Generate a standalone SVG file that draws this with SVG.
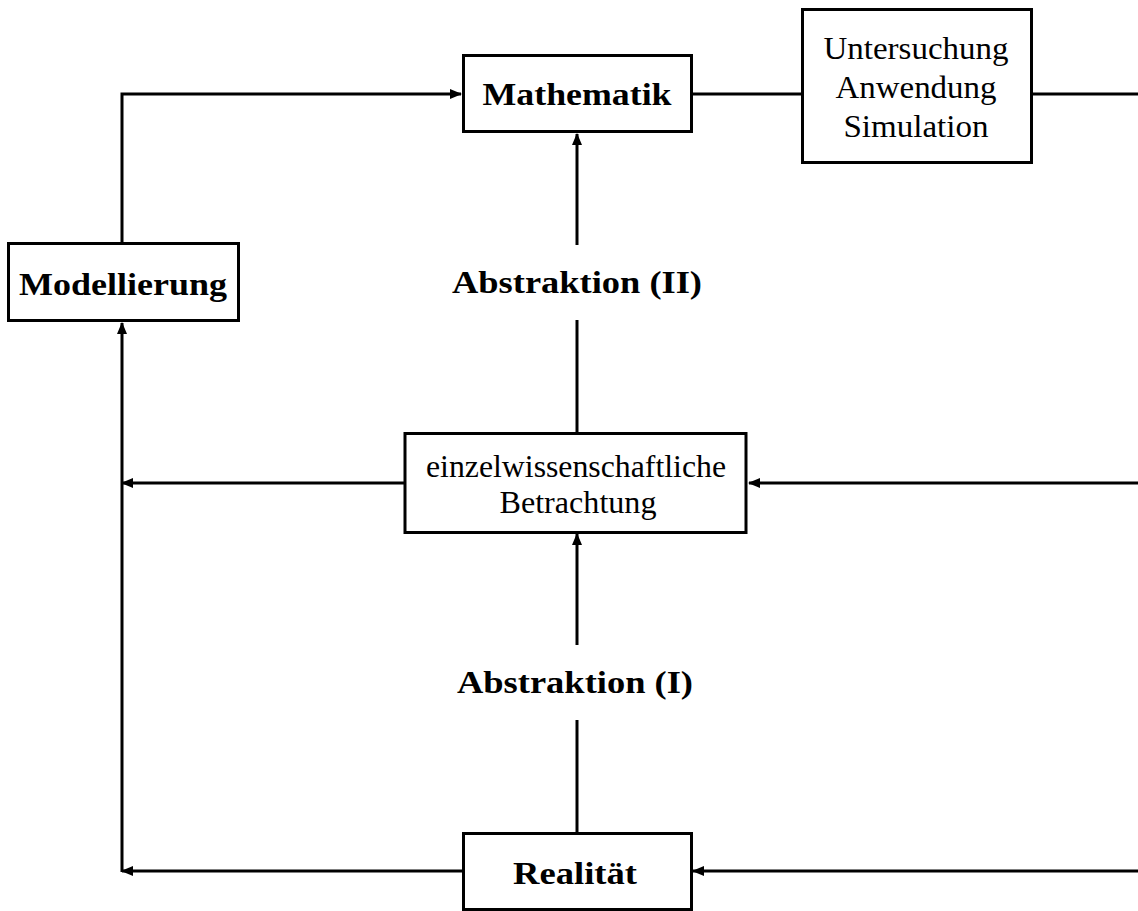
<svg xmlns="http://www.w3.org/2000/svg" width="1138" height="911" viewBox="0 0 1138 911">
<style>
.box{fill:#fff;stroke:#000;stroke-width:3}
.ln{fill:none;stroke:#000;stroke-width:3}
.t{font-family:"Liberation Serif","DejaVu Serif",serif;font-size:31px;fill:#000;text-anchor:middle}
.b{font-weight:bold;font-size:32px}
</style>
<defs>
<marker id="ah" markerWidth="12" markerHeight="10" refX="11" refY="5" orient="auto" markerUnits="userSpaceOnUse">
<path d="M0,0 L12,5 L0,10 Z" fill="#000"/>
</marker>
</defs>
<rect width="1138" height="911" fill="#fff"/>
<g id="connectors">
<polyline class="ln" points="122,243 122,94 461,94" marker-end="url(#ah)"/>
<line class="ln" x1="692" y1="94" x2="802" y2="94"/>
<line class="ln" x1="1032" y1="94" x2="1138" y2="94"/>
<line class="ln" x1="122" y1="872" x2="122" y2="323" marker-end="url(#ah)"/>
<line class="ln" x1="405" y1="483" x2="122" y2="483" marker-end="url(#ah)"/>
<line class="ln" x1="1138" y1="483" x2="749" y2="483" marker-end="url(#ah)"/>
<line class="ln" x1="462" y1="871" x2="122" y2="871" marker-end="url(#ah)"/>
<line class="ln" x1="1138" y1="871" x2="693" y2="871" marker-end="url(#ah)"/>
<line class="ln" x1="577" y1="832" x2="577" y2="720"/>
<line class="ln" x1="577" y1="645" x2="577" y2="534" marker-end="url(#ah)"/>
<line class="ln" x1="577" y1="432" x2="577" y2="320"/>
<line class="ln" x1="577" y1="245" x2="577" y2="134" marker-end="url(#ah)"/>
</g>
<g id="mathematik">
<rect class="box" x="463.5" y="55.5" width="228" height="76"/>
<text class="t b" x="577" y="105" textLength="189" lengthAdjust="spacingAndGlyphs">Mathematik</text>
</g>
<g id="untersuchung">
<rect class="box" x="802.5" y="9.5" width="229" height="153"/>
<text class="t" x="916" y="59" textLength="185" lengthAdjust="spacingAndGlyphs">Untersuchung</text>
<text class="t" x="916" y="98" textLength="161" lengthAdjust="spacingAndGlyphs">Anwendung</text>
<text class="t" x="916" y="137" textLength="145" lengthAdjust="spacingAndGlyphs">Simulation</text>
</g>
<g id="modellierung">
<rect class="box" x="8.5" y="243.5" width="230" height="77"/>
<text class="t b" x="123" y="295" textLength="208" lengthAdjust="spacingAndGlyphs">Modellierung</text>
</g>
<g id="abstraktion2">
<text class="t b" x="577" y="293" textLength="250" lengthAdjust="spacingAndGlyphs">Abstraktion (II)</text>
</g>
<g id="einzelwiss">
<rect class="box" x="405" y="433.5" width="341" height="99"/>
<text class="t" x="576" y="477" textLength="300" lengthAdjust="spacingAndGlyphs">einzelwissenschaftliche</text>
<text class="t" x="578" y="513" textLength="157" lengthAdjust="spacingAndGlyphs">Betrachtung</text>
</g>
<g id="abstraktion1">
<text class="t b" x="575" y="693" textLength="236" lengthAdjust="spacingAndGlyphs">Abstraktion (I)</text>
</g>
<g id="realitaet">
<rect class="box" x="463.5" y="833.5" width="228" height="76"/>
<text class="t b" x="575" y="884" textLength="124" lengthAdjust="spacingAndGlyphs">Realität</text>
</g>
</svg>
